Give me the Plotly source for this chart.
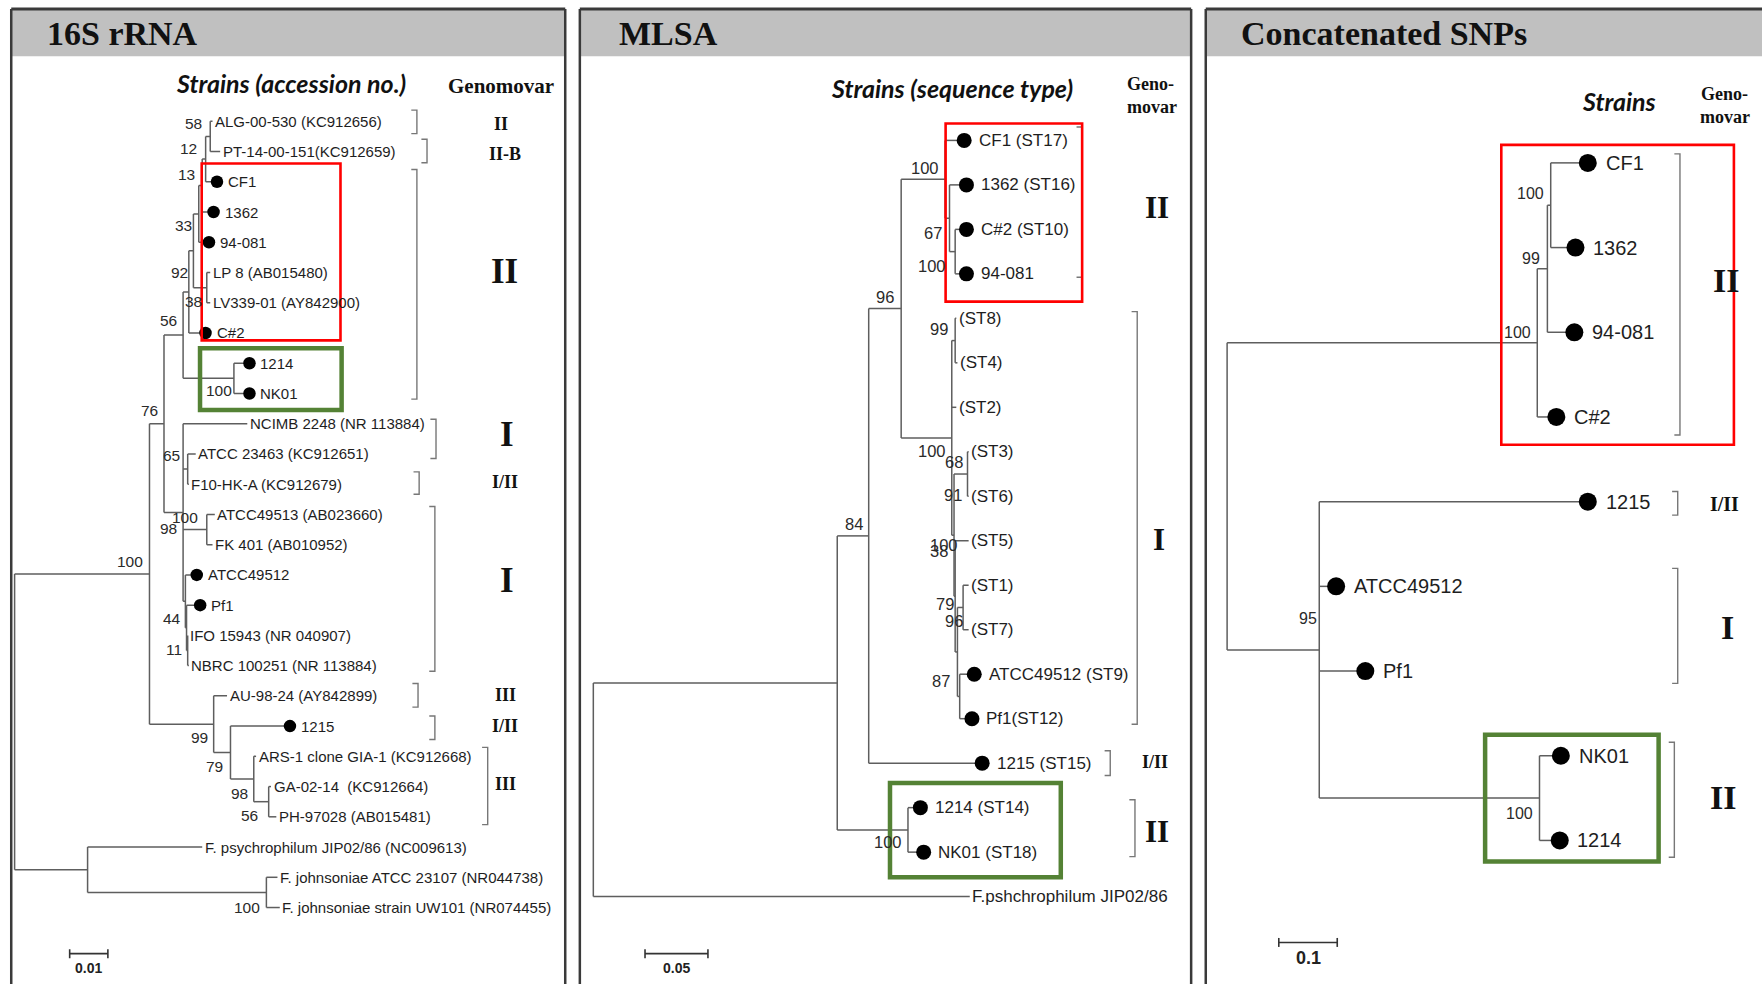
import plotly.graph_objects as go

W, H = 1762, 984
RW, RH = 1568.0, 876.0          # reference layout units (px of the reference sketch)
S = W / RW

# ============================ DATA ============================
# ---------- Panel 1 : 16S rRNA (depth from root, substitutions/site) ----------
p1_title = "16S rRNA"
p1_header = "Strains (accession no.)"
p1_leaf_names = [
    "ALG-00-530 (KC912656)", "PT-14-00-151(KC912659)", "CF1", "1362", "94-081",
    "LP 8 (AB015480)", "LV339-01 (AY842900)", "C#2", "1214", "NK01",
    "NCIMB 2248 (NR 113884)", "ATCC 23463 (KC912651)", "F10-HK-A (KC912679)",
    "ATCC49513 (AB023660)", "FK 401 (AB010952)", "ATCC49512", "Pf1",
    "IFO 15943 (NR 040907)", "NBRC 100251 (NR 113884)", "AU-98-24 (AY842899)", "1215",
    "ARS-1 clone GIA-1 (KC912668)", "GA-02-14  (KC912664)", "PH-97028 (AB015481)",
    "F. psychrophilum JIP02/86 (NC009613)", "F. johnsoniae ATCC 23107 (NR044738)",
    "F. johnsoniae strain UW101 (NR074455)"]
p1_leaf_depth = [0.0518, 0.0538, 0.0515, 0.0506, 0.0494, 0.0512, 0.0512, 0.0485, 0.0600, 0.0600,
                 0.0609, 0.0474, 0.0456, 0.0524, 0.0518, 0.0462, 0.0471, 0.0453, 0.0456,
                 0.0556, 0.0706, 0.0632, 0.0671, 0.0685, 0.0491, 0.0688, 0.0694]
p1_leaf_dot = [0, 0, 1, 1, 1, 0, 0, 1, 1, 1, 0, 0, 0, 0, 0, 1, 1, 0, 0, 0, 1, 0, 0, 0, 0, 0, 0]
p1_nodes = [
    ("n58", 0.0512, [0, 1]), ("n12", 0.0500, ["n58", 2]), ("n13", 0.0491, ["n12", 3]),
    ("n33", 0.0482, ["n13", 4]), ("n38", 0.0503, [5, 6]), ("n92", 0.0468, ["n33", "n38"]),
    ("nC", 0.0456, ["n92", 7]), ("n100b", 0.0574, [8, 9]), ("n56", 0.0441, ["nC", "n100b"]),
    ("n65", 0.0453, [11, 12]), ("n100c", 0.0503, [13, 14]), ("n11", 0.0453, [17, 18]),
    ("n44", 0.0450, [16, "n11"]), ("nP", 0.0447, [15, "n44"]),
    ("n98", 0.0441, [10, "n65", "n100c", "nP"]), ("n76", 0.0391, ["n56", "n98"]),
    ("n56b", 0.0665, [22, 23]), ("n98b", 0.0626, [21, "n56b"]), ("n79", 0.0565, [20, "n98b"]),
    ("n99", 0.0521, [19, "n79"]), ("n100m", 0.0353, ["n76", "n99"]),
    ("nFj", 0.0659, [25, 26]), ("nOut", 0.0191, [24, "nFj"]), ("root", 0.0, ["n100m", "nOut"])]
p1_boot_nodes = ["n58", "n12", "n13", "n33", "n38", "n92", "n100b", "n56", "n65", "n100c", "n11",
                 "n44", "n98", "n76", "n56b", "n98b", "n79", "n99", "n100m", "nFj"]
p1_boot_values = ["58", "12", "13", "33", "38", "92", "100", "56", "65", "100", "11",
                  "44", "98", "76", "56", "98", "79", "99", "100", "100"]
p1_geno_leaves = [(0, 0), (1, 1), (2, 9), (10, 11), (12, 12), (13, 18), (19, 19), (20, 20), (21, 23)]
p1_geno_labels = ["II", "II-B", "II", "I", "I/II", "I", "III", "I/II", "III"]
p1_geno_big = [0, 0, 1, 1, 0, 1, 0, 0, 0]
p1_scale = 0.01

# ---------- Panel 2 : MLSA ----------
p2_title = "MLSA"
p2_header = "Strains (sequence type)"
p2_leaf_names = ["CF1 (ST17)", "1362 (ST16)", "C#2 (ST10)", "94-081", "(ST8)", "(ST4)", "(ST2)",
                 "(ST3)", "(ST6)", "(ST5)", "(ST1)", "(ST7)", "ATCC49512 (ST9)", "Pf1(ST12)",
                 "1215 (ST15)", "1214 (ST14)", "NK01 (ST18)", "F.pshchrophilum JIP02/86"]
p2_leaf_depth = [0.2893, 0.2911, 0.2911, 0.2911, 0.2884, 0.2893, 0.2884, 0.2982, 0.2982, 0.2982,
                 0.2982, 0.2982, 0.2973, 0.2955, 0.3036, 0.2545, 0.2571, 0.2991]
p2_leaf_dot = [1, 1, 1, 1, 0, 0, 0, 0, 0, 0, 0, 0, 1, 1, 1, 1, 1, 0]
p2_nodes = [
    ("n67", 0.2875, [2, 3]), ("nsub", 0.2830, [1, "n67"]), ("nII", 0.2795, [0, "nsub"]),
    ("n99", 0.2875, [4, 5]), ("n68", 0.2973, [7, 8]), ("n96b", 0.2938, [10, 11]),
    ("n87", 0.2911, [12, 13]), ("n79", 0.2893, ["n96b", "n87"]), ("nX", 0.2875, [9, "n79"]),
    ("n38", 0.2866, ["n68", "nX"]), ("nI", 0.2848, ["n99", 6, "n38"]),
    ("n100a", 0.2446, ["nII", "nI"]), ("n96", 0.2188, ["n100a", 14]),
    ("n100d", 0.2500, [15, 16]), ("n84", 0.1938, ["n96", "n100d"]), ("root", 0.0, ["n84", 17])]
p2_boot_nodes = ["n96", "n100a", "nII", "nsub", "n67", "n99", "nI", "n68", "n68", "n38", "n38",
                 "nX", "n96b", "n87", "n100d"]
p2_boot_values = ["84", "96", "100", "67", "100", "99", "100", "68", "91", "100", "38",
                  "79", "96", "87", "100"]
p2_geno_leaves = [(0, 3), (4, 13), (14, 14), (15, 16)]
p2_geno_labels = ["II", "I", "I/II", "II"]
p2_geno_big = [1, 1, 0, 1]
p2_scale = 0.05

# ---------- Panel 3 : Concatenated SNPs ----------
p3_title = "Concatenated SNPs"
p3_header = "Strains"
p3_leaf_names = ["CF1", "1362", "94-081", "C#2", "1215", "ATCC49512", "Pf1", "NK01", "1214"]
p3_leaf_depth = [0.6038, 0.5827, 0.5808, 0.5500, 0.6038, 0.1731, 0.2231, 0.5577, 0.5558]
p3_leaf_dot = [1, 1, 1, 1, 1, 1, 1, 1, 1]
p3_nodes = [
    ("n100p", 0.5538, [0, 1]), ("n99", 0.5481, ["n100p", 2]), ("nII", 0.5308, ["n99", 3]),
    ("n100NK", 0.5346, [7, 8]), ("n95", 0.1577, [4, 5, 6, "n100NK"]), ("root", 0.0, ["nII", "n95"])]
p3_boot_nodes = ["n100p", "n99", "nII", "n100NK", "n95"]
p3_boot_values = ["100", "99", "100", "100", "95"]
p3_geno_leaves = [(0, 3), (4, 4), (5, 6), (7, 8)]
p3_geno_labels = ["II", "I/II", "I", "II"]
p3_geno_big = [1, 0, 1, 1]
p3_scale = 0.1

trees = [
    dict(title=p1_title, header=p1_header, names=p1_leaf_names, depth=p1_leaf_depth, dot=p1_leaf_dot,
         nodes=p1_nodes, bnodes=p1_boot_nodes, bvals=p1_boot_values, gleaves=p1_geno_leaves,
         glabels=p1_geno_labels, gbig=p1_geno_big, scale=p1_scale),
    dict(title=p2_title, header=p2_header, names=p2_leaf_names, depth=p2_leaf_depth, dot=p2_leaf_dot,
         nodes=p2_nodes, bnodes=p2_boot_nodes, bvals=p2_boot_values, gleaves=p2_geno_leaves,
         glabels=p2_geno_labels, gbig=p2_geno_big, scale=p2_scale),
    dict(title=p3_title, header=p3_header, names=p3_leaf_names, depth=p3_leaf_depth, dot=p3_leaf_dot,
         nodes=p3_nodes, bnodes=p3_boot_nodes, bvals=p3_boot_values, gleaves=p3_geno_leaves,
         glabels=p3_geno_labels, gbig=p3_geno_big, scale=p3_scale),
]

# ============================ STYLE / LAYOUT ============================
SANS = "Liberation Sans, Arial, sans-serif"
SERIF = "Liberation Serif, Times New Roman, serif"
HUM = "Lato, Open Sans, sans-serif"
LINE = "#5e5e5e"
TXT = "#1e1e1e"
BRK = "#777777"

styles = [
    dict(frame=(10, 503), root=13, k=3400, y0=108, dy=26.92, tipfont=15, bootfont=15.5, dotsz=12.5,
         dot_off=5, lab_off=13, plain_off=0.5, big=35, small=18, title_x=40,
         head=[(259, 74, 25)], geno_head=[("Genomovar", 446, 77, 21)],
         boot_off=[(-15, -11.5), (-15, -9.6), (-14, -10), (-14, 10), (-12, 12), (-12, 19), (-13, 11),
                   (-13, -13), (-14, -12), (-19, -11), (-12, -1), (-13, -8), (-13, 14), (-13, -12),
                   (-17, 12), (-13, 12.5), (-14, 12), (-13, 12), (-17, -11), (-17, 13.5)],
         brk=[(371, -10, 11, 446, 110), (380, -11, 10, 449, 137), (371, -11, 5, 449, 242),
              (388, -4, 4, 451, 387), (373, -11, 9, 449, 429), (387, -7, 5, 451, 517),
              (372, -11, 10, 450, 619), (387, -9, 12, 449, 646), (434, -8, 7, 450, 698)],
         boxes=[(179.5, 145.5, 303, 303, "#ff0000", 2.6), (178, 310, 304, 365, "#548235", 4.5)],
         sbar=(62, 849, 78, 862, 14)),
    dict(frame=(516, 1060), root=528, k=1120, y0=125, dy=39.6, tipfont=17, bootfont=16.5, dotsz=15,
         dot_off=6, lab_off=17, plain_off=0.5, big=31, small=18, title_x=549,
         head=[(847, 78, 25)], geno_head=[("Geno-", 1024, 75, 18), ("movar", 1025, 95, 18)],
         boot_off=[(-13, -11), (-14, -10), (-18, -10), (-15, 13), (-21, 13), (-14, -10), (-18, 12),
                   (-12, -11), (-13, 19), (-9, 9), (-13, 14), (-9, 7), (-8, 12), (-17, -14),
                   (-18, 11)],
         brk=[(963, -12, 3, 1030, 185), (1012, -6, 5, 1031, 480), (988, -11, 11, 1028, 678),
              (1010, -7, 4, 1030, 740)],
         boxes=[(841.5, 110, 963, 268.5, "#ff0000", 2.6), (792, 697, 944, 781, "#548235", 4.5)],
         sbar=(574, 849, 601, 862, 14)),
    dict(frame=(1073, 1575), root=1092, k=520, y0=145, dy=75.4, tipfont=20, bootfont=16, dotsz=18,
         dot_off=7, lab_off=21, plain_off=0.5, big=34, small=20, title_x=1103,
         head=[(1441, 90, 25)], geno_head=[("Geno-", 1535, 84, 18), ("movar", 1535, 104, 18)],
         boot_off=[(-18, -10), (-15, -9), (-18, -9), (-18, 13.5), (-10, -27.5)],
         brk=[(1495, -8, 16, 1536, 250), (1493, -9, 12, 1535, 449), (1493, -16, 11, 1537, 559),
              (1490, -12, 15, 1533, 710)],
         boxes=[(1336, 129, 1543, 396, "#ff0000", 2.6), (1321.6, 654, 1476, 767, "#548235", 4.5)],
         sbar=(1138, 839, 1162, 853, 18)),
]

HEAD_TOP, HEAD_BOT = 8, 50


def pp(x, y):
    """reference px -> paper coords"""
    return x / RW, 1 - y / RH


fig = go.Figure()
ann, shp = [], []
lay = {}

for pi, (T, P) in enumerate(zip(trees, styles)):
    sfx = "" if pi == 0 else str(pi + 1)
    xa, ya = "x" + sfx, "y" + sfx

    def X(px, P=P):
        return (px - P["root"]) / P["k"]

    def Y(py, P=P):
        return (py - P["y0"]) / P["dy"]

    fl, fr = P["frame"]
    fr_c = min(fr, RW)
    lay["xaxis" + sfx] = dict(domain=[fl / RW, fr_c / RW], range=[X(fl), X(fr_c)], visible=False,
                              fixedrange=True, anchor=ya)
    lay["yaxis" + sfx] = dict(domain=[0, 1], range=[Y(RH), Y(0)], visible=False,
                              fixedrange=True, anchor=xa)

    # ---- tree geometry ----
    node_map = {nid: (d, ch) for nid, d, ch in T["nodes"]}
    memo = {}

    def ny(c):
        if isinstance(c, int):
            return float(c)
        if c not in memo:
            ch = node_map[c][1]
            memo[c] = (ny(ch[0]) + ny(ch[-1])) / 2.0
        return memo[c]

    def nx(c):
        return T["depth"][c] if isinstance(c, int) else node_map[c][0]

    lx, ly = [], []
    for nid, d, ch in T["nodes"]:
        lx += [d, d, None]
        ly += [ny(ch[0]), ny(ch[-1]), None]
        for c in ch:
            lx += [d, nx(c), None]
            ly += [ny(c), ny(c), None]
    fig.add_trace(go.Scatter(x=lx, y=ly, mode="lines", line=dict(color=LINE, width=1.5),
                             xaxis=xa, yaxis=ya, hoverinfo="skip", showlegend=False))

    # ---- leaves ----
    dx_, dy_ = [], []
    for i, (nm, dep, hasdot) in enumerate(zip(T["names"], T["depth"], T["dot"])):
        if hasdot:
            dx_.append(dep + P["dot_off"] / P["k"])
            dy_.append(i)
        ann.append(dict(x=dep, y=i, xref=xa, yref=ya, text=nm, showarrow=False, xanchor="left",
                        yanchor="middle",
                        xshift=(P["lab_off"] if hasdot else P["plain_off"]) * S,
                        font=dict(family=SANS, size=P["tipfont"], color=TXT)))
    fig.add_trace(go.Scatter(x=dx_, y=dy_, mode="markers",
                             marker=dict(size=P["dotsz"], color="black"),
                             xaxis=xa, yaxis=ya, hoverinfo="skip", showlegend=False))

    # ---- bootstrap values ----
    for nid, val, (ox, oy) in zip(T["bnodes"], T["bvals"], P["boot_off"]):
        ann.append(dict(x=nx(nid), y=ny(nid), xref=xa, yref=ya, text=val, showarrow=False,
                        xanchor="center", yanchor="middle", xshift=ox * S, yshift=-oy * S,
                        font=dict(family=SANS, size=P["bootfont"], color="#2a2a2a")))

    # ---- genomovar brackets ----
    bx, by = [], []
    for (a, b), lab, big, (brx, pt, pb, tx, ty) in zip(T["gleaves"], T["glabels"], T["gbig"], P["brk"]):
        ytop = a + pt / P["dy"]
        ybot = b + pb / P["dy"]
        bx += [X(brx - 5), X(brx), X(brx), X(brx - 5), None]
        by += [ytop, ytop, ybot, ybot, None]
        ann.append(dict(x=X(tx), y=Y(ty), xref=xa, yref=ya, text="<b>%s</b>" % lab, showarrow=False,
                        xanchor="center", yanchor="middle",
                        font=dict(family=SERIF, size=P["big"] if big else P["small"], color="#111")))
    fig.add_trace(go.Scatter(x=bx, y=by, mode="lines", line=dict(color=BRK, width=1.4),
                             xaxis=xa, yaxis=ya, hoverinfo="skip", showlegend=False))

    # ---- highlight boxes ----
    for (x0, y0, x1, y1, col, wd) in P["boxes"]:
        shp.append(dict(type="rect", xref=xa, yref=ya, x0=X(x0), x1=X(x1), y0=Y(y0), y1=Y(y1),
                        line=dict(color=col, width=wd), fillcolor="rgba(0,0,0,0)", layer="above"))

    # ---- scale bar ----
    sx, sy, tx, ty, tsz = P["sbar"]
    x0 = X(sx)
    x1 = x0 + T["scale"]
    yb = Y(sy)
    tk = 4 / P["dy"]
    fig.add_trace(go.Scatter(x=[x0, x1, None, x0, x0, None, x1, x1],
                             y=[yb, yb, None, yb - tk, yb + tk, None, yb - tk, yb + tk],
                             mode="lines", line=dict(color="#333", width=1.6),
                             xaxis=xa, yaxis=ya, hoverinfo="skip", showlegend=False))
    ann.append(dict(x=(x0 + x1) / 2, y=Y(ty), xref=xa, yref=ya, text="<b>%g</b>" % T["scale"],
                    showarrow=False, xanchor="center", yanchor="middle",
                    font=dict(family=SANS, size=tsz, color="#222")))

    # ---- panel frame & header ----
    px0, py0 = pp(fl, HEAD_TOP)
    px1, py1 = pp(fr, HEAD_BOT)
    shp.append(dict(type="rect", xref="paper", yref="paper", x0=px0, x1=px1, y0=py1, y1=py0,
                    fillcolor="#c0c0c0", line=dict(width=0), layer="below"))
    shp.append(dict(type="line", xref="paper", yref="paper", x0=px0, x1=px1, y0=py0, y1=py0,
                    line=dict(color="#3a3a3a", width=3)))
    for fx in (fl, fr):
        shp.append(dict(type="line", xref="paper", yref="paper", x0=fx / RW, x1=fx / RW, y0=0, y1=py0,
                        line=dict(color="#3a3a3a", width=2.5)))
    tx_, ty_ = pp(P["title_x"], 30)
    ann.append(dict(x=tx_, y=ty_, xref="paper", yref="paper", text="<b>%s</b>" % T["title"],
                    showarrow=False, xanchor="left", yanchor="middle",
                    font=dict(family=SERIF, size=34, color="#111")))
    for (hx, hy, hs) in P["head"]:
        a, b = pp(hx, hy)
        ann.append(dict(x=a, y=b, xref="paper", yref="paper", text="<b><i>%s</i></b>" % T["header"],
                        showarrow=False, xanchor="center", yanchor="middle",
                        font=dict(family=HUM, size=hs, color="#111")))
    for (txt, hx, hy, hs) in P["geno_head"]:
        a, b = pp(hx, hy)
        ann.append(dict(x=a, y=b, xref="paper", yref="paper", text="<b>%s</b>" % txt,
                        showarrow=False, xanchor="center", yanchor="middle",
                        font=dict(family=SERIF, size=hs, color="#111")))

fig.update_layout(width=W, height=H, margin=dict(l=0, r=0, t=0, b=0), autosize=False,
                  paper_bgcolor="white", plot_bgcolor="rgba(0,0,0,0)", showlegend=False,
                  annotations=ann, shapes=shp, **lay)

fig.write_html("out.html", config=dict(displayModeBar=False, staticPlot=True),
               post_script="document.body.style.margin='0';document.body.style.overflow='hidden';")
